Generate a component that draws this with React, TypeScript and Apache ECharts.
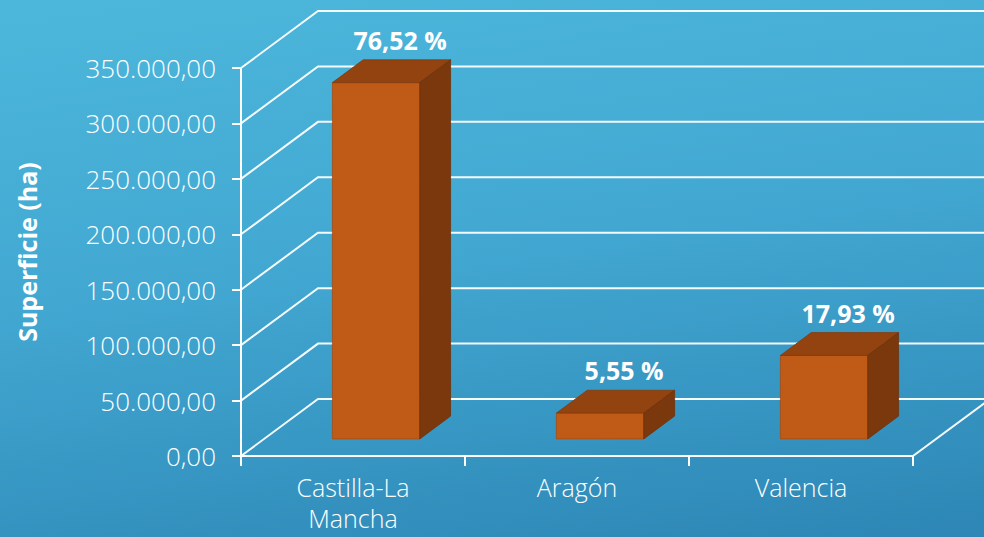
import React, { useEffect, useRef } from "react";
import * as echarts from "echarts";

const categories = ["Castilla-La\nMancha", "Aragón", "Valencia"];
const surface = [321400, 23300, 75300];
const shares = ["76,52 %", "5,55 %", "17,93 %"];
const yTicks = [0, 50000, 100000, 150000, 200000, 250000, 300000, 350000];

const DX = 77;
const DY = -57;
const FONT = "'Century Gothic', 'Open Sans', 'DejaVu Sans', sans-serif";

function fmt(v: number): string {
  const int = Math.round(v).toString().replace(/\B(?=(\d{3})+(?!\d))/g, ".");
  return int + ",00";
}

export default function App() {
  const ref = useRef<HTMLDivElement>(null);
  useEffect(() => {
    if (!ref.current) return;
    const chart = echarts.init(ref.current, null, { renderer: "svg" });
    chart.setOption({
      animation: false,
      backgroundColor: "transparent",
      grid: { left: 241, right: 71, top: 68, bottom: 81, containLabel: false },
      xAxis: {
        type: "category",
        data: categories,
        boundaryGap: true,
        axisLine: { show: true, lineStyle: { color: "#ffffff", width: 2 } },
        axisTick: { show: true, length: 10, lineStyle: { color: "#ffffff", width: 2 } },
        axisLabel: {
          color: "#ffffff",
          fontSize: 25,
          lineHeight: 31,
          margin: 15,
          fontFamily: FONT,
          fontWeight: 300,
          interval: 0,
        },
        splitLine: { show: false },
      },
      yAxis: {
        type: "value",
        min: 0,
        max: 350000,
        interval: 50000,
        name: "Superficie (ha)",
        nameLocation: "middle",
        nameRotate: 90,
        nameGap: 202,
        nameTextStyle: {
          color: "#ffffff",
          fontSize: 25,
          fontWeight: "bold",
          fontFamily: FONT,
          padding: [0, 0, 0, 20],
        },
        axisLine: { show: true, lineStyle: { color: "#ffffff", width: 2 } },
        axisTick: { show: true, length: 9, lineStyle: { color: "#ffffff", width: 2 } },
        axisLabel: {
          color: "#ffffff",
          fontSize: 26,
          margin: 25,
          fontFamily: FONT,
          fontWeight: 300,
          formatter: (v: number) => fmt(v),
        },
        splitLine: { show: false },
      },
      series: [
        {
          type: "custom",
          z: 1,
          silent: true,
          data: yTicks.map((v) => [0, v]),
          renderItem: (params: any, api: any) => {
            const v = api.value(1);
            const p0 = api.coord([0, v]);
            const pEnd = api.coord([categories.length - 1, v]);
            const band = api.size([1, 0])[0];
            const left = p0[0] - band / 2;
            const right = pEnd[0] + band / 2;
            const y = p0[1];
            const children: any[] = [
              {
                type: "polyline",
                shape: {
                  points: [
                    [left, y],
                    [left + DX, y + DY],
                    [right + DX, y + DY],
                  ],
                },
                style: { stroke: "rgba(255,255,255,0.95)", lineWidth: 2, fill: null },
              },
            ];
            if (v === 0) {
              children.push({
                type: "line",
                shape: { x1: right, y1: y, x2: right + DX, y2: y + DY },
                style: { stroke: "rgba(255,255,255,0.95)", lineWidth: 2 },
              });
            }
            return { type: "group", children };
          },
        },
        {
          type: "custom",
          z: 5,
          data: surface.map((v, i) => [i, v]),
          renderItem: (params: any, api: any) => {
            const i = api.value(0);
            const v = api.value(1);
            const b = api.coord([i, 0]);
            const t = api.coord([i, v]);
            const band = api.size([1, 0])[0];
            const w = band * 0.39;
            const fx = b[0] - w / 2 + DX * 0.3;
            const fy0 = b[1] + DY * 0.3;
            const fy1 = t[1] + DY * 0.3;
            const bx = DX * 0.4;
            const by = DY * 0.4;
            return {
              type: "group",
              children: [
                {
                  type: "polygon",
                  shape: { points: [[fx, fy1], [fx + w, fy1], [fx + w, fy0], [fx, fy0]] },
                  style: { fill: "#c05a17", stroke: "#a64c12", lineWidth: 0.8 },
                },
                {
                  type: "polygon",
                  shape: { points: [[fx, fy1], [fx + bx, fy1 + by], [fx + w + bx, fy1 + by], [fx + w, fy1]] },
                  style: { fill: "#93430f", stroke: "#833b0d", lineWidth: 0.8 },
                },
                {
                  type: "polygon",
                  shape: { points: [[fx + w, fy1], [fx + w + bx, fy1 + by], [fx + w + bx, fy0 + by], [fx + w, fy0]] },
                  style: { fill: "#7b380d", stroke: "#6e320b", lineWidth: 0.8 },
                },
                {
                  type: "text",
                  x: fx + w / 2 + 24,
                  y: fy1 + by - 20,
                  style: {
                    text: shares[i],
                    fill: "#ffffff",
                    fontSize: 25,
                    fontWeight: "bold",
                    fontFamily: FONT,
                    align: "center",
                    verticalAlign: "middle",
                  },
                },
              ],
            };
          },
        },
      ],
    });
    return () => chart.dispose();
  }, []);
  return (
    <div
      ref={ref}
      style={{
        position: "fixed",
        left: 0,
        top: 0,
        width: 984,
        height: 537,
        background: "linear-gradient(172deg, #4db7db 0%, #42a8d2 45%, #2d86b5 100%)",
      }}
    />
  );
}
